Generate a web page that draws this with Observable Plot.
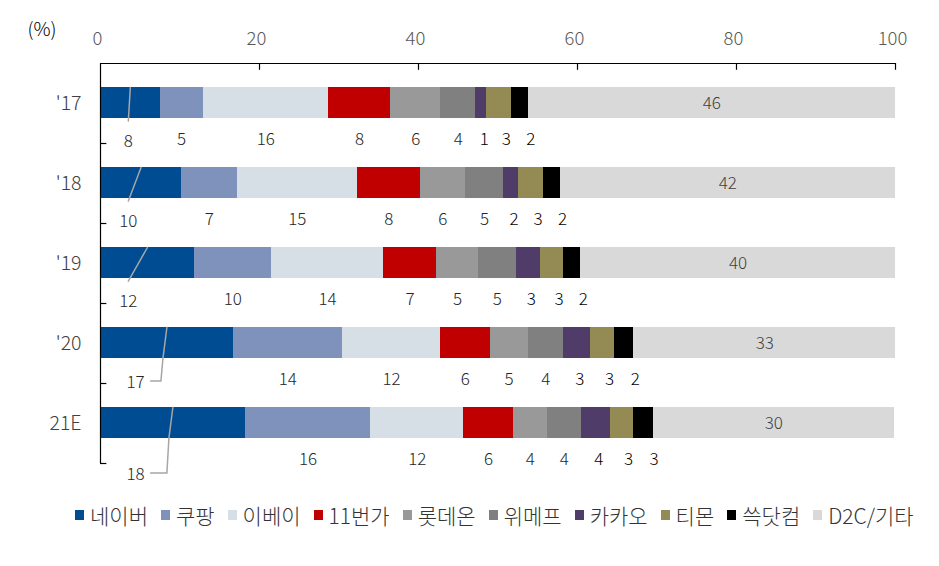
<!DOCTYPE html>
<html>
<head>
<meta charset="utf-8">
<script src="https://cdn.jsdelivr.net/npm/d3@7"></script>
<script src="https://cdn.jsdelivr.net/npm/@observablehq/plot@0.6"></script>
<style>
  body { margin: 0; background: #fff; font-family: "Noto Sans CJK KR", "Noto Sans", sans-serif; }
  #legend { display: flex; align-items: center; height: 40px; padding-left: 75px; font-size: 21px; font-weight: 300; color: #333; white-space: nowrap; }
  .item { display: inline-flex; align-items: center; margin-right: 13px; }
  .sw { display: inline-block; width: 9px; height: 10px; margin-right: 6px; }
</style>
</head>
<body>
<div id="chart"></div>
<div id="legend"></div>
<script>
// ---- data ----
const categories = ["'17", "'18", "'19", "'20", "21E"];
const seriesNames = ["네이버", "쿠팡", "이베이", "11번가", "롯데온", "위메프", "카카오", "티몬", "쓱닷컴", "D2C/기타"];
const seriesColors = ["#004C93", "#7F92BB", "#D6DEE6", "#C00000", "#999999", "#808080", "#503C68", "#948A54", "#000000", "#D9D9D9"];
const naver   = [7.5, 10.2, 11.8, 16.7, 18.2];
const coupang = [5.4, 7.0, 9.7, 13.7, 15.8];
const ebay    = [15.8, 15.1, 14.1, 12.4, 11.7];
const st11    = [7.8, 7.9, 6.7, 6.2, 6.2];
const lotteon = [6.3, 5.7, 5.2, 4.8, 4.3];
const wemake  = [4.4, 4.8, 4.8, 4.4, 4.3];
const kakao   = [1.4, 1.9, 3.0, 3.4, 3.6];
const tmon    = [3.1, 3.1, 3.0, 3.1, 2.9];
const ssg     = [2.1, 2.1, 2.1, 2.4, 2.5];
const others  = [46.2, 42.2, 39.6, 32.9, 30.4];
const xTicks = [0, 20, 40, 60, 80, 100];

const seriesValues = [naver, coupang, ebay, st11, lotteon, wemake, kakao, tmon, ssg, others];

// ---- build stacked table ----
const rows = [];
categories.forEach((cat, i) => {
  let acc = 0;
  seriesNames.forEach((s, k) => {
    const v = seriesValues[k][i];
    rows.push({cat, i, series: s, k, value: v, x1: acc, x2: acc + v, mid: acc + v / 2, label: String(Math.round(v))});
    acc += v;
  });
});

const BAR_TOP = 0.30, BAR_BOT = 0.69, LABEL_Y = 0.95;
const last = categories.length - 1;

// leader lines for the first series (labels placed at lower-left)
const leaderPts = [];
const naverLabels = [];
categories.forEach((cat, i) => {
  const mid = naver[i] / 2;
  if (mid < 7) {
    const lx = 3.5;
    leaderPts.push({i, x: mid, y: i + BAR_TOP}, {i, x: lx, y: i + 0.72});
    naverLabels.push({x: lx, y: i + 0.97, text: String(Math.round(naver[i]))});
  } else {
    const lx = 4.4;
    const ly = i === last ? i + 1.12 : i + 0.97;
    leaderPts.push(
      {i, x: mid, y: i + BAR_TOP},
      {i, x: mid - 0.5, y: i + BAR_BOT},
      {i, x: mid - 0.75, y: ly},
      {i, x: lx + 1.9, y: ly}
    );
    naverLabels.push({x: lx, y: ly + 0.02, text: String(Math.round(naver[i]))});
  }
});

const lab = (k) => rows.filter(d => d.k === k);
const labelStyle = {fontSize: 17, fill: "#262626", fontWeight: 300};

const chart = Plot.plot({
  width: 939,
  height: 495,
  marginTop: 63,
  marginBottom: 32,
  marginLeft: 100,
  marginRight: 44,
  x: {domain: [0, 100], axis: null},
  y: {domain: [0, 5], reverse: true, axis: null},
  color: {domain: seriesNames, range: seriesColors},
  style: {fontFamily: "'Noto Sans CJK KR', 'Noto Sans', sans-serif", background: "white", overflow: "visible"},
  marks: [
    Plot.rect(rows, {x1: "x1", x2: "x2", y1: d => d.i + BAR_TOP, y2: d => d.i + BAR_BOT, fill: "series", shapeRendering: "crispEdges"}),
    // axes lines and ticks
    Plot.ruleX([0], {stroke: "#000", strokeWidth: 1.2}),
    Plot.ruleY([0], {stroke: "#000", strokeWidth: 1.2}),
    Plot.ruleX(xTicks.filter(t => t > 0), {x: d => d, y1: 0, y2: 0.085, stroke: "#000", strokeWidth: 1.2}),
    Plot.ruleY(d3.range(1, categories.length + 1), {y: d => d, x1: 0, x2: 0.8, stroke: "#000", strokeWidth: 1.2}),
    Plot.text(xTicks, {x: d => d, y: 0, dy: -24, dx: -3, text: d => String(d), fontSize: 18.5, fontWeight: 300, fill: "#595959"}),
    Plot.text(categories, {x: 0, y: (d, i) => i + 0.5, dx: -19, text: d => d, textAnchor: "end", fontSize: 19.5, fontWeight: 300, fill: "#404040"}),
    Plot.text(["(%)"], {frameAnchor: "top-left", dx: -73, dy: -41, text: d => d, textAnchor: "start", fontSize: 19, fontWeight: 300, fill: "#000"}),
    // leader lines + first-series labels
    Plot.line(leaderPts, {x: "x", y: "y", z: "i", stroke: "#a6a6a6", strokeWidth: 1.5}),
    Plot.text(naverLabels, {x: "x", y: "y", text: "text", ...labelStyle}),
    // labels below bars
    Plot.text(rows.filter(d => d.k >= 1 && d.k <= 5), {x: "mid", y: d => d.i + LABEL_Y, text: "label", ...labelStyle}),
    Plot.text(lab(6), {x: "mid", y: d => d.i + LABEL_Y, text: "label", dx: 3, fontSize: 17, fontWeight: 300, fill: "#000"}),
    Plot.text(lab(7), {x: "mid", y: d => d.i + LABEL_Y, text: "label", dx: 7, fontSize: 17, fontWeight: 300, fill: "#000"}),
    Plot.text(lab(8), {x: "mid", y: d => d.i + LABEL_Y, text: "label", dx: 11, fontSize: 17, fontWeight: 300, fill: "#000"}),
    // last series labels inside bar
    Plot.text(lab(9), {x: "mid", y: d => d.i + 0.5, text: "label", fontSize: 17, fontWeight: 300, fill: "#404040"})
  ]
});
document.getElementById("chart").appendChild(chart);

// ---- legend ----
const legend = document.getElementById("legend");
seriesNames.forEach((s, k) => {
  const item = document.createElement("span");
  item.className = "item";
  const sw = document.createElement("span");
  sw.className = "sw";
  sw.style.background = seriesColors[k];
  item.appendChild(sw);
  item.appendChild(document.createTextNode(s));
  legend.appendChild(item);
});
</script>
</body>
</html>
